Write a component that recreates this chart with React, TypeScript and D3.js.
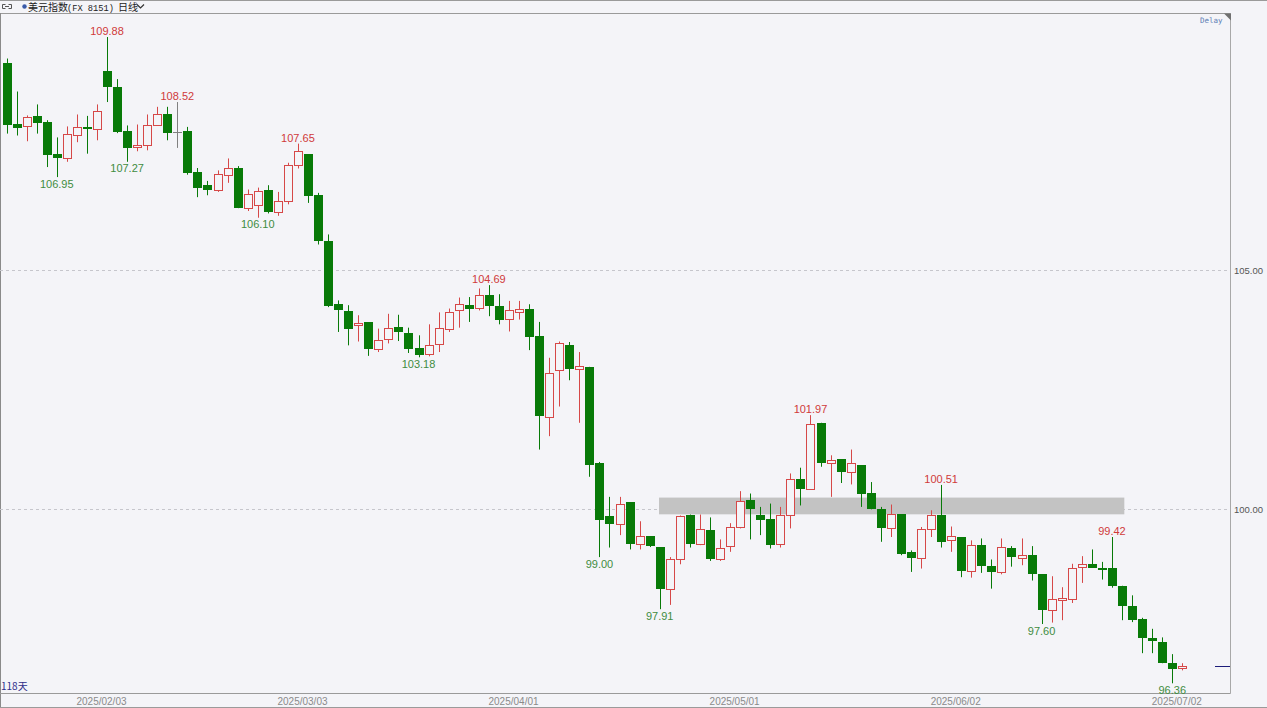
import React, { useEffect } from "react";
import * as d3 from "d3";

// Daily OHLC of the US dollar index, one entry per trading day from 2025/01/20
const opens = [
  109.34, 108.07, 108.01, 108.22, 108.1, 107.44, 107.34, 107.84, 107.99, 107.95,
  109.16, 108.84, 107.91, 107.57, 107.62, 108.05, 108.26, 107.89, 107.91, 107.06,
  106.78, 106.67, 107.0, 107.15, 106.3, 106.36, 106.69, 106.22, 106.44, 107.2,
  107.43, 106.57, 105.61, 104.3, 104.15, 103.86, 103.91, 103.35, 103.57, 103.81,
  103.69, 103.37, 103.24, 103.45, 103.77, 104.16, 104.28, 104.22, 104.49, 104.25,
  103.99, 104.13, 104.18, 103.63, 101.93, 102.91, 103.43, 102.94, 102.98, 100.96,
  99.85, 99.69, 100.15, 99.27, 99.44, 99.21, 98.34, 98.95, 99.89, 99.28,
  99.56, 98.95, 99.23, 99.63, 100.19, 99.89, 99.8, 99.28, 99.89, 100.63,
  100.42, 101.81, 100.96, 101.05, 100.78, 100.92, 100.34, 100.01, 99.6, 99.9,
  99.11, 98.99, 99.58, 99.89, 99.35, 99.42, 98.71, 99.26, 98.81, 98.69,
  99.2, 98.99, 99.04, 98.64, 97.9, 98.11, 98.12, 98.8, 98.85, 98.77,
  98.77, 98.4, 97.97, 97.7, 97.31, 97.22, 96.78, 96.67,
];
const highs = [
  109.43, 108.74, 108.24, 108.47, 108.14, 107.78, 108.01, 108.26, 108.23, 108.47,
  109.88, 109.0, 108.03, 108.05, 108.26, 108.42, 108.42, 108.52, 108.0, 107.14,
  106.87, 107.09, 107.34, 107.18, 106.69, 106.73, 106.78, 106.64, 107.25, 107.65,
  107.43, 106.62, 105.75, 104.37, 104.27, 104.06, 103.91, 103.78, 104.09, 104.07,
  103.8, 103.64, 103.87, 104.12, 104.2, 104.43, 104.44, 104.62, 104.69, 104.5,
  104.36, 104.36, 104.29, 103.92, 103.17, 103.51, 103.5, 103.29, 102.98, 100.99,
  100.26, 100.26, 100.15, 99.75, 99.44, 99.21, 99.0, 99.87, 99.89, 99.89,
  99.83, 99.37, 99.71, 100.38, 100.33, 100.05, 100.12, 100.05, 100.75, 100.87,
  101.97, 101.81, 101.13, 101.05, 101.25, 100.92, 100.57, 100.05, 100.1, 99.9,
  99.14, 99.63, 99.98, 100.51, 99.64, 99.42, 99.35, 99.39, 98.95, 99.39,
  99.23, 99.39, 99.23, 98.64, 98.6, 98.37, 98.86, 99.02, 99.16, 98.9,
  99.42, 98.4, 98.2, 97.73, 97.5, 97.32, 96.97, 96.78,
];
const lows = [
  107.86, 107.82, 107.7, 107.86, 107.16, 106.95, 107.27, 107.68, 107.44, 107.72,
  108.52, 107.87, 107.27, 107.49, 107.51, 108.03, 107.72, 107.56, 107.0, 106.53,
  106.57, 106.64, 106.83, 106.3, 106.24, 106.1, 106.19, 106.14, 106.38, 107.13,
  106.41, 105.54, 104.23, 103.71, 103.43, 103.51, 103.21, 103.29, 103.47, 103.52,
  103.27, 103.18, 103.2, 103.29, 103.71, 103.8, 103.92, 104.16, 104.04, 103.87,
  103.72, 103.97, 103.33, 101.25, 101.53, 102.15, 102.7, 101.81, 100.68, 99.0,
  99.2, 99.46, 99.16, 99.16, 99.21, 97.91, 98.0, 98.85, 99.2, 99.25,
  98.92, 98.92, 99.11, 99.6, 99.37, 99.46, 99.18, 99.2, 99.6, 100.08,
  100.42, 100.89, 100.26, 100.55, 100.52, 100.05, 100.0, 99.32, 99.42, 99.04,
  98.69, 98.76, 99.42, 99.2, 99.11, 98.58, 98.57, 98.67, 98.34, 98.64,
  98.8, 98.83, 98.51, 97.6, 97.63, 97.68, 98.04, 98.46, 98.78, 98.53,
  98.36, 97.68, 97.64, 96.99, 96.99, 96.78, 96.36, 96.63,
];
const closes = [
  108.05, 107.98, 108.2, 108.09, 107.42, 107.34, 107.86, 108.0, 107.96, 108.34,
  108.84, 107.89, 107.56, 107.63, 108.05, 108.26, 107.87, 107.89, 107.03, 106.73,
  106.67, 107.01, 107.13, 106.31, 106.59, 106.66, 106.22, 106.45, 107.2, 107.5,
  106.56, 105.61, 104.25, 104.16, 103.78, 103.89, 103.36, 103.55, 103.8, 103.7,
  103.36, 103.22, 103.43, 103.8, 104.12, 104.29, 104.18, 104.49, 104.25, 103.97,
  104.16, 104.2, 103.6, 101.95, 102.86, 103.47, 102.94, 103.0, 100.92, 99.78,
  99.69, 100.12, 99.27, 99.44, 99.23, 98.34, 98.95, 99.87, 99.28, 99.58,
  98.95, 99.19, 99.63, 100.17, 100.01, 99.78, 99.25, 99.89, 100.63, 100.42,
  101.78, 100.96, 101.04, 100.79, 100.96, 100.33, 100.0, 99.6, 99.9, 99.07,
  98.99, 99.58, 99.89, 99.32, 99.44, 98.71, 99.26, 98.81, 98.69, 99.21,
  99.0, 99.04, 98.64, 97.89, 98.12, 98.14, 98.78, 98.85, 98.78, 98.75,
  98.39, 97.97, 97.69, 97.31, 97.24, 96.78, 96.65, 96.72,
];

// Candles whose swing high / swing low gets a value label
const highMarks = [10, 17, 29, 48, 80, 93, 110];
const lowMarks = [5, 12, 25, 41, 59, 65, 103, 116];

const gridLevels = [100, 105];
const dateTicks = ["2025/02/03", "2025/03/03", "2025/04/01", "2025/05/01", "2025/06/02", "2025/07/02"];

// Shaded resistance zone around 100 (price range, first and last candle slot)
const zoneLow = 99.895;
const zoneHigh = 100.245;
const zoneFrom = 65;
const zoneTo = 111.3;

const W = 1267;
const H = 708;
const BG = "#f4f4f8";
const UP = "#d64848";
const DOWN = "#087a08";
const UP_LABEL = "#d03a3a";
const DOWN_LABEL = "#3f8c3f";
const NUM_FONT = "'Liberation Sans', Arial, sans-serif";
const CJK_FONT = "'Noto Sans CJK SC', 'Noto Sans', sans-serif";
const MONO_FONT = "'Liberation Mono', 'DejaVu Sans Mono', monospace";

// Weekday calendar starting at the first candle
function tradingDays(start: Date, n: number): string[] {
  const out: string[] = [];
  const d = new Date(start.getTime());
  while (out.length < n) {
    const wd = d.getUTCDay();
    if (wd !== 0 && wd !== 6) {
      const y = d.getUTCFullYear();
      const m = String(d.getUTCMonth() + 1).padStart(2, "0");
      const dd = String(d.getUTCDate()).padStart(2, "0");
      out.push(`${y}/${m}/${dd}`);
    }
    d.setUTCDate(d.getUTCDate() + 1);
  }
  return out;
}

export default function App() {
  useEffect(() => {
    document.body.style.margin = "0";
    document.body.style.background = BG;
  }, []);

  const n = opens.length;
  const days = tradingDays(new Date(Date.UTC(2025, 0, 20)), n);

  const plotRight = 1230.5;
  const plotBottom = 693.5;
  const x = d3.scaleLinear().domain([0, n - 1]).range([6.5, 1182.3]);
  const y = d3.scaleLinear().domain([100, 105]).range([509.3, 270.3]);

  const candles = d3.range(n).map((i) => {
    const o = opens[i];
    const c = closes[i];
    const cx = Math.round(x(i)) + 0.5;
    const yH = y(highs[i]);
    const yL = y(lows[i]);
    const yO = y(o);
    const yC = y(c);
    if (c > o) {
      const top = Math.round(yC) + 0.5;
      const bot = Math.max(Math.round(yO) + 0.5, top + 1);
      return (
        <g key={i}>
          <line x1={cx} x2={cx} y1={yH} y2={top} stroke={UP} />
          <line x1={cx} x2={cx} y1={bot} y2={yL} stroke={UP} />
          <rect x={cx - 4} y={top} width={8} height={bot - top} fill={BG} stroke={UP} />
        </g>
      );
    }
    if (c < o) {
      const top = Math.round(yO);
      const bot = Math.max(Math.round(yC), top + 2);
      return (
        <g key={i}>
          <line x1={cx} x2={cx} y1={yH} y2={yL} stroke={DOWN} />
          <rect x={cx - 4.5} y={top} width={9} height={bot - top} fill={DOWN} />
        </g>
      );
    }
    const ym = Math.round(yO) + 0.5;
    return (
      <g key={i}>
        <line x1={cx} x2={cx} y1={yH} y2={yL} stroke="#808080" />
        <line x1={cx - 4.5} x2={cx + 4.5} y1={ym} y2={ym} stroke="#808080" />
      </g>
    );
  });

  const tickIdx = dateTicks.map((t) => days.indexOf(t));

  return (
    <svg width={W} height={H} style={{ display: "block" }} xmlns="http://www.w3.org/2000/svg">
      <rect x={0} y={0} width={W} height={H} fill={BG} />

      {/* header bar */}
      <line x1={0} x2={W} y1={0.5} y2={0.5} stroke="#9a9a9a" />
      <line x1={0} x2={plotRight} y1={13.5} y2={13.5} stroke="#9a9a9a" />
      <g fill="none" stroke="#555" strokeWidth={1}>
        <path d="M5.5,4.5 H2.5 V8.5 H5.5" />
        <path d="M8.5,4.5 H11.5 V8.5 H8.5" />
        <line x1={5} x2={9} y1={6.5} y2={6.5} />
      </g>
      <circle cx={24.5} cy={6.5} r={2.2} fill="#3a5aa8" />
      <text x={28} y={11} fontFamily={CJK_FONT} fontSize={10} fill="#222">
        美元指数
      </text>
      <text x={67} y={10.5} fontFamily={MONO_FONT} fontSize={8.7} fill="#222">
        (FX 8151)
      </text>
      <text x={118} y={11} fontFamily={CJK_FONT} fontSize={10} fill="#222">
        日线
      </text>
      <path d="M137,4.5 L140.5,8 L144,4.5" fill="none" stroke="#333" strokeWidth={1.2} />

      {/* frame */}
      <line x1={0.5} x2={0.5} y1={13} y2={H} stroke="#8a8a8a" />
      <line x1={plotRight} x2={plotRight} y1={13} y2={plotBottom} stroke="#a8a8a8" />
      <line x1={0} x2={plotRight} y1={plotBottom} y2={plotBottom} stroke="#9a9a9a" />
      <line x1={0} x2={W} y1={707.5} y2={707.5} stroke="#9a9a9a" />
      <path d="M1224,13.5 L1231,13.5 L1231,20.5 Z" fill="#707070" />
      <text x={1200} y={23} fontFamily="'DejaVu Sans Mono', monospace" fontSize={7.5} fill="#5d7db5">
        Delay
      </text>

      {/* price grid and right axis */}
      {gridLevels.map((p) => (
        <g key={p}>
          <line
            x1={0}
            x2={plotRight - 0.5}
            y1={Math.round(y(p)) + 0.5}
            y2={Math.round(y(p)) + 0.5}
            stroke="#c6c6cc"
            strokeDasharray="3,3"
          />
          <text
            x={1234}
            y={y(p) + 3.5}
            fontFamily={NUM_FONT}
            fontSize={9.5}
            fill="#555"
          >
            {p.toFixed(2)}
          </text>
        </g>
      ))}

      {/* resistance zone */}
      <rect
        x={x(zoneFrom) - 0.7}
        y={y(zoneHigh)}
        width={x(zoneTo) - x(zoneFrom)}
        height={y(zoneLow) - y(zoneHigh)}
        fill="#c3c3c3"
      />

      {candles}

      {/* swing labels */}
      {highMarks.map((i) => (
        <text
          key={`h${i}`}
          x={x(i)}
          y={y(highs[i]) - 2}
          textAnchor="middle"
          fontFamily={NUM_FONT}
          fontSize={11}
          fill={UP_LABEL}
        >
          {highs[i].toFixed(2)}
        </text>
      ))}
      {lowMarks.map((i) => (
        <text
          key={`l${i}`}
          x={x(i)}
          y={y(lows[i]) + 10.5}
          textAnchor="middle"
          fontFamily={NUM_FONT}
          fontSize={11}
          fill={DOWN_LABEL}
        >
          {lows[i].toFixed(2)}
        </text>
      ))}

      {/* last price marker */}
      <line
        x1={1215}
        x2={plotRight - 0.5}
        y1={Math.round(y(closes[n - 1])) + 0.5}
        y2={Math.round(y(closes[n - 1])) + 0.5}
        stroke="#1c1c7a"
      />

      <text x={1} y={690} fontFamily={CJK_FONT} fontSize={10} fill="#2e2e8a">
        {`${n}天`}
      </text>

      {/* date axis */}
      {tickIdx.map((i, k) => (
        <text
          key={dateTicks[k]}
          x={x(i) - 5.5}
          y={705}
          textAnchor="middle"
          fontFamily={NUM_FONT}
          fontSize={10}
          fill="#8a8a8a"
        >
          {dateTicks[k]}
        </text>
      ))}
    </svg>
  );
}
